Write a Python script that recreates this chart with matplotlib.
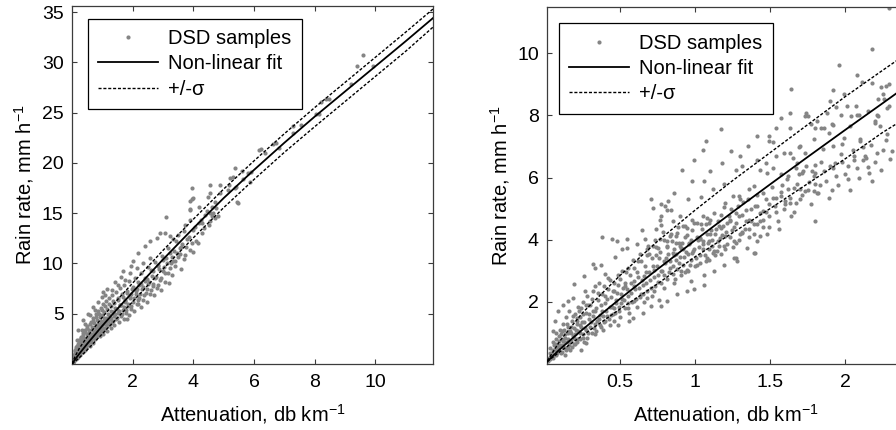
import numpy as np
import matplotlib
matplotlib.use('Agg')
from matplotlib import pyplot as plt

plt.rcParams['font.family'] = ['Liberation Sans', 'DejaVu Sans']
plt.rcParams['mathtext.fontset'] = 'custom'
plt.rcParams['mathtext.rm'] = 'Liberation Sans'
plt.rcParams['mathtext.it'] = 'Liberation Sans:italic'
plt.rcParams['mathtext.default'] = 'regular'

# ---- left panel: full range ----
left_fit_a = [0, 0.1, 0.25, 0.5, 1, 1.5, 2, 2.63, 3, 4, 5, 6, 7, 8, 9, 10, 11, 11.9]
left_fit_r = [0, 0.45, 1.05, 2.0, 3.8, 5.5, 7.15, 9.2, 10.4, 13.5, 16.5, 19.3, 22.0, 24.6, 27.1, 29.6, 32.1, 34.4]
left_up_r = [0, 0.75, 1.6, 2.7, 4.65, 6.4, 8.05, 10.1, 11.3, 14.4, 17.4, 20.2, 22.9, 25.5, 28.0, 30.5, 33.0, 35.3]
left_lo_r = [0, 0.25, 0.65, 1.4, 3.0, 4.6, 6.2, 8.25, 9.45, 12.55, 15.55, 18.35, 21.05, 23.6, 26.1, 28.6, 31.1, 33.5]

left_samples = [
    (9.58, 30.7), (9.39, 29.6), (9.91, 29.6), (9.20, 27.8), (8.38, 26.4), (8.21, 26.1),
    (8.46, 26.4), (8.14, 24.9), (7.56, 23.8), (7.28, 23.7), (6.62, 21.9), (6.22, 21.4),
    (6.35, 21.0), (6.84, 21.5), (5.80, 19.0), (5.63, 18.4), (5.36, 19.5), (5.31, 18.6),
    (5.17, 17.8), (5.36, 17.5), (5.44, 16.1), (5.14, 17.3), (4.87, 17.8), (4.87, 17.0),
    (4.70, 16.1), (4.76, 15.5), (4.54, 17.8), (4.54, 17.0), (3.97, 17.5), (3.99, 16.5),
    (3.88, 15.3), (4.19, 15.6), (3.97, 16.4), (3.90, 15.4), (5.42, 17.6), (5.47, 16.0),
    (5.20, 18.5), (5.61, 19.2), (5.91, 19.1), (5.86, 18.1), (6.18, 21.3), (6.73, 22.0),
    (7.28, 23.0), (8.05, 24.9), (4.54, 15.0), (4.48, 16.6), (4.27, 14.0), (4.60, 14.7),
    (4.81, 14.7), (3.72, 13.8), (3.88, 14.3), (3.11, 14.6), (3.88, 16.2), (3.59, 9.4),
    (3.99, 11.1), (4.15, 12.0), (2.89, 13.0), (3.06, 13.0), (3.22, 12.7), (2.79, 12.5),
    (2.57, 12.2), (2.40, 11.7), (2.18, 11.0), (2.02, 10.2), (1.96, 9.7), (1.69, 9.2),
    (1.63, 8.7), (1.41, 8.2), (1.14, 7.5), (1.03, 7.2), (0.98, 6.7), (0.76, 5.4),
    (0.59, 4.9), (0.43, 4.0), (0.32, 3.4), (2.18, 6.0), (1.80, 4.5), (3.44, 12.2),
    (3.55, 11.5), (3.72, 10.8), (3.22, 11.0), (3.33, 10.2), (3.00, 10.3), (2.84, 9.7),
    (2.67, 9.2), (2.46, 8.5), (2.29, 8.0), (2.13, 7.5), (1.96, 7.0), (1.74, 6.4),
    (1.58, 5.9), (1.36, 5.2), (1.14, 4.5), (0.92, 3.7), (0.70, 2.9), (0.48, 2.1),
    (0.26, 1.2), (2.57, 10.5), (2.35, 10.0), (2.13, 9.5), (1.91, 9.0), (1.74, 8.4),
    (1.52, 7.9), (1.31, 7.4), (1.09, 6.9), (0.87, 6.2), (0.70, 5.7), (0.54, 5.0),
    (0.37, 4.4), (0.21, 3.4), (0.15, 2.4), (0.10, 1.4),
    (0.05, 0.3), (0.06, 0.6), (0.08, 0.9), (0.08, 0.4), (0.10, 1.1), (0.10, 0.6),
    (0.12, 0.8), (0.13, 1.5), (0.15, 1.0), (0.16, 0.6), (0.18, 1.8), (0.18, 1.2),
    (0.20, 0.9), (0.22, 1.5), (0.24, 2.2), (0.25, 1.1), (0.27, 1.7), (0.28, 0.9),
    (0.30, 2.6), (0.30, 1.4), (0.33, 2.0), (0.35, 1.2), (0.36, 2.9), (0.38, 1.7),
    (0.40, 2.3), (0.42, 1.4), (0.44, 3.2), (0.45, 2.0), (0.47, 1.6), (0.50, 2.6),
    (0.50, 3.6), (0.52, 1.9), (0.55, 2.3), (0.56, 3.1), (0.58, 1.8), (0.60, 2.8),
    (0.60, 4.0), (0.63, 2.2), (0.65, 3.4), (0.67, 2.6), (0.70, 4.3), (0.70, 2.1),
    (0.72, 3.0), (0.75, 3.7), (0.77, 2.5), (0.80, 4.7), (0.80, 3.3), (0.83, 2.8),
    (0.85, 4.0), (0.88, 3.1), (0.90, 5.0), (0.90, 3.6), (0.93, 2.8), (0.95, 4.3),
    (0.98, 3.4), (1.00, 5.4), (1.00, 3.9), (1.03, 3.0), (1.05, 4.6), (1.08, 3.6),
    (1.10, 5.8), (1.12, 4.2), (1.15, 3.3), (1.18, 5.0), (1.20, 3.9), (1.22, 6.0),
    (1.25, 4.5), (1.28, 3.6), (1.30, 5.3), (1.33, 4.2), (1.35, 6.3), (1.38, 4.8),
    (1.40, 3.9), (1.43, 5.6), (1.46, 4.5), (1.50, 6.6), (1.52, 5.1), (1.55, 4.2),
    (1.58, 5.9), (1.62, 4.8), (1.65, 7.0), (1.68, 5.4), (1.70, 4.5), (1.74, 6.2),
    (1.78, 5.1), (1.80, 7.3), (1.84, 5.8), (1.88, 4.9), (1.92, 6.6), (1.95, 5.5),
    (2.00, 7.7), (2.02, 6.2), (2.06, 5.3), (2.10, 7.0), (2.14, 6.0), (2.18, 8.2),
    (2.22, 6.6), (2.26, 5.7), (2.30, 7.5), (2.35, 6.4), (2.40, 8.6), (2.44, 7.1),
    (2.48, 6.2), (2.52, 8.0), (2.58, 7.0), (2.62, 9.3), (2.66, 7.8), (2.70, 6.9),
    (2.75, 8.6), (2.80, 7.6), (2.85, 9.8), (2.90, 8.4), (2.95, 7.4), (3.00, 9.2),
    (3.05, 8.2), (3.10, 10.5), (3.15, 9.0), (3.20, 8.1), (3.25, 10.0), (3.30, 8.9),
    (3.35, 11.2), (3.40, 9.7), (3.50, 10.6), (3.60, 11.6), (3.70, 10.4), (3.80, 12.4),
    (3.90, 11.3), (4.00, 13.3), (4.10, 12.2), (4.20, 14.0), (4.30, 13.0), (4.40, 14.8),
    (4.50, 13.8), (4.60, 15.6), (4.70, 14.5),
    (0.02, 0.1), (0.03, 0.3), (0.04, 0.5), (0.04, 0.15), (0.06, 0.35), (0.07, 0.7),
    (0.09, 0.5), (0.09, 1.0), (0.11, 0.7), (0.11, 1.3), (0.12, 0.45), (0.14, 1.0),
    (0.14, 1.7), (0.16, 0.8), (0.17, 1.4), (0.19, 0.7), (0.19, 2.0), (0.21, 1.2),
    (0.21, 1.7), (0.23, 0.9), (0.23, 2.4), (0.25, 1.5), (0.26, 2.0), (0.28, 1.25),
    (0.29, 2.7), (0.31, 1.7), (0.32, 2.3), (0.34, 1.4), (0.35, 3.1), (0.37, 2.0),
    (0.39, 2.6), (0.41, 1.8), (0.43, 3.4), (0.44, 2.4), (0.46, 1.9), (0.48, 3.0),
    (0.49, 2.2), (0.51, 3.8), (0.53, 2.6), (0.54, 2.1), (0.57, 3.4), (0.59, 2.5),
    (0.61, 4.2), (0.62, 3.0), (0.64, 2.4), (0.66, 3.7), (0.68, 2.8), (0.69, 4.6),
    (0.71, 3.3), (0.73, 2.6), (0.74, 4.1), (0.76, 3.1), (0.78, 5.0), (0.79, 3.6),
    (0.81, 2.9), (0.83, 4.4), (0.84, 3.4), (0.86, 5.3), (0.87, 3.9), (0.89, 3.1),
    (0.91, 4.7), (0.92, 3.7), (0.94, 5.6), (0.96, 4.1), (0.97, 3.3), (0.99, 4.9),
    (1.01, 3.6), (1.02, 6.0), (1.04, 4.3), (1.06, 3.4), (1.07, 5.2), (1.09, 4.0),
    (1.11, 6.3), (1.13, 4.6), (1.14, 3.8), (1.16, 5.5), (1.19, 4.3), (1.21, 6.6),
    (1.23, 4.9), (1.24, 4.0), (1.27, 5.8), (1.29, 4.6), (1.32, 6.9), (1.34, 5.2),
    (1.36, 4.3), (1.39, 6.1), (1.42, 5.0), (1.45, 7.2), (1.47, 5.5), (1.49, 4.6),
    (1.53, 6.4), (1.56, 5.3), (1.59, 7.6), (1.61, 5.9), (1.64, 5.0), (1.67, 6.7),
    (1.71, 5.7), (1.73, 7.9), (1.76, 6.3), (1.79, 5.4), (1.82, 7.1), (1.86, 6.0),
    (1.89, 8.3), (1.91, 6.7), (1.94, 5.8), (1.98, 7.5), (2.04, 6.6), (2.08, 8.6),
    (2.12, 7.3), (2.16, 6.4), (2.20, 7.9), (2.25, 7.0), (2.28, 9.0), (2.33, 7.7),
    (2.38, 6.9), (2.42, 8.3), (2.46, 7.5), (2.50, 9.6), (2.55, 8.2), (2.60, 7.4),
    (2.64, 8.8), (2.68, 8.0), (2.72, 10.1), (2.78, 8.7), (2.82, 7.9), (2.88, 9.4),
    (2.93, 8.6), (2.98, 10.7), (3.02, 9.6), (3.08, 9.0), (3.12, 10.0), (3.18, 11.5),
    (3.22, 9.5), (3.28, 10.6), (3.32, 12.4), (3.38, 10.2), (3.45, 11.0), (3.48, 12.8),
    (3.55, 10.9), (3.62, 11.9), (3.68, 13.2), (3.75, 11.6), (3.85, 12.6), (3.95, 12.0),
    (4.05, 13.6), (4.25, 14.3), (4.35, 13.5), (4.45, 15.2), (4.55, 14.2), (4.65, 15.0),
]

# ---- right panel: low attenuation zoom ----
right_fit_a = [0.015, 0.05, 0.1, 0.25, 0.5, 0.75, 1.0, 1.25, 1.5, 1.75, 2.0, 2.25, 2.4]
right_fit_r = [0.08, 0.25, 0.48, 1.11, 2.10, 3.05, 3.98, 4.89, 5.78, 6.66, 7.53, 8.39, 8.91]
right_up_a = [0.015, 0.1, 0.25, 0.5, 0.75, 1.0, 1.25, 1.5, 1.75, 2.0, 2.25, 2.4]
right_up_r = [0.1, 0.75, 1.65, 2.85, 3.95, 4.95, 5.9, 6.8, 7.7, 8.6, 9.45, 9.95]
right_lo_r = [0.08, 0.4, 0.92, 1.77, 2.58, 3.45, 4.22, 5.0, 5.8, 6.6, 7.45, 7.9]

right_samples = [
    (2.29, 11.45), (2.18, 10.15), (1.96, 9.62), (2.08, 9.29), (1.64, 8.86), (2.11, 9.08),
    (2.18, 9.06), (1.92, 8.82), (2.24, 8.93), (2.29, 9.0), (1.99, 8.68), (2.25, 8.68),
    (2.26, 8.52), (2.22, 8.52), (1.90, 8.46), (2.01, 8.32), (1.94, 8.28), (2.07, 8.32),
    (1.63, 8.09), (1.73, 7.98), (1.75, 7.98), (1.88, 8.09), (1.97, 8.03), (2.15, 8.14),
    (2.21, 8.0), (2.28, 8.25), (1.81, 7.82), (1.92, 7.68), (2.08, 8.03), (2.20, 7.82),
    (2.23, 7.66), (1.63, 7.61), (1.86, 7.61), (2.03, 7.66),
    (1.74, 8.09), (1.57, 7.93), (1.84, 7.6), (1.54, 7.6), (1.49, 7.34), (1.41, 7.34),
    (1.35, 7.01), (1.30, 6.69), (1.17, 7.55), (1.07, 7.17), (0.99, 6.58), (1.05, 6.9),
    (1.24, 6.85), (1.18, 6.48), (1.10, 6.21), (1.06, 5.89), (0.98, 5.89), (0.915, 6.26),
    (0.86, 5.51), (0.705, 5.32), (0.77, 5.14), (0.816, 4.97), (1.79, 7.23), (1.70, 7.01),
    (1.89, 7.45), (1.92, 7.01), (2.10, 7.23), (2.06, 6.69), (2.14, 6.64), (2.16, 6.16),
    (2.02, 6.37), (2.22, 7.98), (2.29, 8.3), (2.27, 8.95), (1.41, 6.58), (1.54, 6.69),
    (1.63, 6.8), (1.68, 6.48), (1.74, 6.37), (1.80, 6.16), (1.79, 5.56), (1.70, 5.62),
    (1.57, 5.4), (1.48, 6.16), (1.39, 5.72), (1.30, 5.3), (1.63, 5.19),
    (0.82, 5.24), (0.80, 5.08), (0.77, 4.76), (0.95, 5.3), (1.04, 5.38), (1.12, 5.62),
    (1.19, 5.78), (1.27, 6.26), (1.31, 6.37), (1.49, 7.17), (1.52, 7.14), (1.77, 7.71),
    (1.69, 6.99), (1.59, 6.8), (1.65, 6.64), (1.73, 6.8), (1.80, 7.6), (1.85, 6.93),
    (1.91, 7.71), (1.99, 7.28), (1.98, 7.07), (2.04, 7.98), (2.09, 8.03), (2.10, 7.17),
    (2.13, 6.69), (2.20, 7.77), (1.43, 6.26), (1.47, 6.48), (1.52, 6.32), (1.57, 6.1),
    (1.62, 6.05), (1.67, 6.32), (1.71, 6.16), (1.78, 6.21), (1.80, 5.78), (1.73, 5.56),
    (1.81, 5.5), (1.90, 6.37), (1.93, 6.48), (1.80, 4.6), (1.56, 4.33), (1.40, 3.58),
    (1.27, 3.42), (1.43, 4.11), (1.31, 4.22), (1.36, 4.65), (1.45, 4.92), (1.49, 5.14),
    (1.54, 5.35), (1.60, 5.14), (1.62, 5.62), (1.67, 5.19), (1.40, 5.08), (1.34, 4.97),
    (1.27, 4.87), (1.23, 4.65), (1.16, 4.44), (1.09, 4.55), (1.05, 4.76), (0.98, 4.65),
    (0.92, 4.44), (0.87, 4.11), (0.90, 3.79), (0.96, 3.9), (1.03, 4.01), (1.09, 3.95),
    (1.16, 3.79), (1.12, 3.58), (1.05, 3.69), (0.98, 3.58), (1.20, 4.11), (1.29, 5.40),
    (1.36, 5.62), (1.25, 5.40), (1.20, 5.19),
    (0.717, 5.03), (0.84, 4.97), (0.38, 4.08), (0.445, 4.03), (0.478, 3.95), (0.544, 4.01),
    (0.51, 3.69), (0.544, 3.74), (0.467, 3.45), (0.61, 3.85), (0.644, 4.31), (0.666, 4.01),
    (0.743, 4.33), (0.776, 4.46), (0.765, 4.65), (0.854, 4.6), (0.897, 4.76), (0.677, 3.69),
    (0.72, 3.79), (0.765, 4.01), (0.83, 4.11), (0.81, 3.79), (0.875, 3.9), (0.854, 3.58),
    (0.743, 3.52), (0.92, 3.69), (0.93, 4.44),
    (1.394, 3.56), (1.26, 3.40), (1.06, 2.54), (0.99, 2.43), (0.97, 2.66), (0.77, 1.86),
    (0.76, 2.07), (0.65, 1.65), (0.584, 1.49), (0.562, 1.38), (0.485, 1.27), (0.385, 1.11),
    (0.33, 0.95), (0.24, 0.46), (0.275, 0.68), (0.193, 2.56), (0.26, 2.83), (0.33, 3.1),
    (0.32, 3.22), (0.374, 3.2), (0.12, 1.89), (0.087, 1.7), (0.154, 2.02), (0.187, 2.13),
    (0.065, 1.38), (0.054, 1.05), (0.065, 0.63), (0.043, 0.30), (0.087, 0.41), (0.13, 0.30),
    (0.154, 0.52), (0.198, 0.63), (0.12, 0.73), (0.11, 1.05), (0.165, 1.05), (0.23, 1.27),
    (0.21, 1.49), (0.24, 1.81), (0.286, 1.91), (0.32, 1.7), (0.364, 1.59), (0.397, 1.38),
    (0.44, 1.59), (0.463, 1.81), (0.507, 1.97), (0.55, 1.81), (0.595, 2.02), (0.64, 2.24),
    (0.683, 2.13), (0.728, 2.34), (0.794, 2.45), (0.86, 2.61), (0.904, 2.88), (0.948, 3.04),
    (1.015, 3.2), (1.08, 3.42), (1.125, 3.63), (1.19, 3.79), (1.258, 3.95), (1.30, 4.17),
    (1.357, 4.33), (1.41, 4.49), (1.456, 4.65), (0.904, 3.74), (0.86, 3.52), (0.794, 3.31),
    (0.728, 3.04), (0.66, 2.83), (0.595, 2.66), (0.53, 2.5), (0.463, 2.34), (0.397, 2.18),
    (0.33, 2.5), (0.264, 2.34), (0.419, 2.77), (0.485, 2.88), (0.55, 3.1), (0.617, 3.31),
    (0.683, 3.52), (0.75, 3.74), (0.816, 3.95), (0.88, 4.22), (0.948, 4.38), (1.015, 4.54),
    (1.08, 4.71), (1.036, 4.06), (1.10, 4.17), (1.17, 4.38), (1.235, 4.6), (1.125, 2.99),
    (1.06, 2.88), (1.19, 3.2), (1.28, 3.31), (1.346, 3.74), (1.41, 3.95), (1.48, 4.17),
    (0.948, 2.34), (0.88, 2.24), (0.816, 2.02), (0.705, 1.86),
    (0.03, 0.15), (0.03, 0.35), (0.04, 0.25), (0.05, 0.45), (0.05, 0.2), (0.06, 0.6),
    (0.06, 0.3), (0.07, 0.5), (0.07, 0.8), (0.08, 0.35), (0.08, 0.65), (0.09, 0.9),
    (0.09, 0.45), (0.10, 0.6), (0.10, 1.1), (0.11, 0.4), (0.11, 0.8), (0.12, 1.3),
    (0.12, 0.55), (0.13, 0.95), (0.13, 0.7), (0.14, 1.5), (0.14, 0.45), (0.15, 0.8),
    (0.15, 1.2), (0.16, 0.6), (0.16, 1.7), (0.17, 1.0), (0.17, 0.75), (0.18, 1.4),
    (0.18, 0.55), (0.19, 1.15), (0.19, 0.85), (0.20, 1.6), (0.20, 0.95), (0.21, 0.7),
    (0.21, 1.3), (0.22, 1.85), (0.22, 1.05), (0.23, 0.8), (0.23, 1.5), (0.24, 1.2),
    (0.25, 0.95), (0.25, 2.0), (0.26, 1.35), (0.26, 0.7), (0.27, 1.65), (0.27, 1.1),
    (0.28, 2.2), (0.28, 0.85), (0.29, 1.45), (0.30, 1.2), (0.30, 1.9), (0.31, 1.0),
    (0.32, 1.55), (0.32, 2.35), (0.33, 1.3), (0.34, 1.8), (0.34, 1.05), (0.35, 2.05),
    (0.36, 1.45), (0.36, 2.6), (0.37, 1.2), (0.38, 1.7), (0.38, 2.25), (0.39, 1.35),
    (0.40, 1.95), (0.40, 2.9), (0.41, 1.55), (0.42, 2.4), (0.43, 1.25), (0.43, 1.85),
    (0.44, 2.15), (0.45, 1.6), (0.46, 2.6), (0.46, 1.4), (0.47, 1.95), (0.48, 2.3),
    (0.49, 1.7), (0.50, 2.75), (0.50, 1.5), (0.51, 2.1), (0.52, 2.45), (0.53, 1.8),
    (0.54, 2.95), (0.55, 2.2), (0.56, 1.65), (0.57, 2.6), (0.58, 2.0), (0.59, 3.1),
    (0.60, 2.4), (0.61, 1.85), (0.62, 2.8), (0.63, 2.15), (0.64, 3.3), (0.65, 2.55),
    (0.66, 2.0), (0.67, 2.95), (0.68, 2.35), (0.69, 3.55), (0.70, 2.7), (0.71, 2.2),
    (0.72, 3.15), (0.73, 2.5), (0.74, 3.75), (0.75, 2.85), (0.76, 3.4), (0.77, 2.6),
    (0.78, 3.0), (0.79, 4.0), (0.80, 3.25), (0.81, 2.75), (0.82, 3.55), (0.83, 3.1),
    (0.84, 4.2), (0.85, 2.9), (0.86, 3.7), (0.87, 3.35), (0.88, 3.05), (0.89, 3.9),
    (0.90, 3.45), (0.92, 3.2), (0.93, 4.1), (0.94, 3.6), (0.95, 3.0), (0.96, 3.85),
    (0.97, 3.35), (0.98, 4.3), (0.99, 3.7), (1.00, 3.15), (1.02, 4.0), (1.03, 3.5),
    (1.04, 4.5), (1.05, 3.85), (1.07, 3.3), (1.08, 4.2), (1.09, 3.7), (1.10, 4.65),
    (1.11, 4.0), (1.13, 3.5), (1.14, 4.35), (1.15, 3.95), (1.17, 4.8), (1.18, 4.15),
    (1.20, 3.7), (1.21, 4.55), (1.23, 4.1), (1.24, 5.0), (1.26, 4.4), (1.27, 3.9),
    (1.29, 4.75), (1.31, 4.25), (1.32, 5.2), (1.34, 4.6), (1.36, 4.1), (1.37, 5.0),
    (1.39, 4.5), (1.41, 5.45), (1.43, 4.85), (1.45, 4.4), (1.47, 5.3), (1.49, 4.75),
    (1.51, 5.7), (1.53, 5.1), (1.55, 4.6), (1.57, 5.55), (1.59, 5.0), (1.61, 5.95),
    (1.63, 5.35), (1.66, 4.9), (1.68, 5.8), (1.70, 5.3), (1.72, 6.2), (1.75, 5.6),
    (1.77, 5.15), (1.79, 6.05), (1.82, 5.5), (1.84, 6.5), (1.87, 5.9), (1.89, 5.35),
    (1.92, 6.3), (1.95, 5.75), (1.97, 6.75), (2.00, 6.1), (2.03, 5.6), (2.06, 6.55),
    (2.09, 6.0), (2.12, 7.0), (2.15, 6.35), (2.18, 5.9), (2.21, 6.8), (2.24, 6.25),
    (2.27, 7.2), (2.30, 6.6),
    (0.02, 0.1), (0.025, 0.2), (0.035, 0.5), (0.045, 0.35), (0.055, 0.7), (0.065, 0.45),
    (0.075, 0.3), (0.075, 1.0), (0.085, 0.55), (0.095, 0.75), (0.105, 0.35), (0.105, 0.95),
    (0.115, 0.6), (0.125, 1.1), (0.135, 0.5), (0.135, 0.85), (0.145, 1.3), (0.155, 0.7),
    (0.155, 1.0), (0.165, 0.45), (0.175, 1.2), (0.185, 0.9), (0.185, 1.55), (0.195, 0.65),
    (0.205, 1.1), (0.215, 1.4), (0.215, 0.8), (0.225, 1.7), (0.235, 1.0), (0.245, 1.35),
    (0.255, 0.85), (0.255, 1.6), (0.265, 1.15), (0.275, 1.9), (0.285, 1.0), (0.295, 1.6),
    (0.305, 1.35), (0.315, 2.1), (0.325, 1.15), (0.335, 1.7), (0.345, 1.4), (0.355, 2.3),
    (0.365, 1.25), (0.375, 1.9), (0.385, 1.55), (0.395, 2.5), (0.405, 1.7), (0.415, 2.1),
    (0.425, 1.45), (0.435, 2.7), (0.445, 1.85), (0.455, 2.35), (0.465, 1.65), (0.475, 2.05),
    (0.485, 2.55), (0.495, 1.85), (0.505, 2.25), (0.515, 3.0), (0.525, 2.05), (0.535, 2.6),
    (0.545, 2.4), (0.555, 1.95), (0.565, 2.85), (0.575, 2.3), (0.585, 3.35), (0.595, 2.5),
    (0.605, 2.1), (0.615, 2.95), (0.625, 2.45), (0.635, 3.55), (0.645, 2.7), (0.655, 2.25),
    (0.665, 3.15), (0.675, 2.6), (0.685, 3.8), (0.695, 2.95), (0.705, 2.45), (0.715, 3.4),
    (0.725, 2.8), (0.735, 4.0), (0.745, 3.15), (0.755, 2.65), (0.765, 3.6), (0.775, 3.0),
    (0.785, 4.25), (0.795, 2.85), (0.805, 3.4), (0.815, 3.75), (0.825, 2.95), (0.835, 3.3),
    (0.845, 3.95), (0.855, 3.15), (0.865, 2.75), (0.875, 3.55), (0.885, 4.4), (0.895, 3.25),
    (0.905, 3.0), (0.915, 3.9), (0.925, 3.45), (0.935, 2.95), (0.945, 4.15), (0.955, 3.55),
    (0.965, 3.2), (0.975, 4.0), (0.985, 3.65), (0.995, 4.55), (1.005, 3.4), (1.015, 4.1),
    (1.025, 3.75), (1.035, 3.25), (1.045, 4.35), (1.055, 3.95), (1.065, 3.5), (1.075, 4.5),
    (1.085, 3.9), (1.095, 3.35), (1.105, 4.3), (1.115, 3.8), (1.125, 4.85), (1.135, 4.2),
    (1.145, 3.65), (1.155, 4.6), (1.165, 4.05), (1.175, 3.55), (1.185, 4.45), (1.195, 5.05),
    (1.205, 4.25), (1.215, 3.85), (1.225, 4.75), (1.245, 4.3), (1.255, 3.75), (1.275, 4.55),
    (1.285, 5.1), (1.295, 4.0), (1.315, 4.8), (1.335, 4.35), (1.355, 5.3), (1.375, 4.6),
    (1.395, 4.2), (1.415, 5.1), (1.435, 4.6), (1.455, 5.5), (1.475, 4.9), (1.495, 4.4),
    (1.52, 5.35), (1.54, 4.9), (1.58, 5.75), (1.60, 5.25), (1.64, 4.75), (1.66, 5.65),
    (1.69, 6.1), (1.71, 5.45), (1.76, 5.85), (1.80, 6.4), (1.83, 5.75), (1.86, 6.2),
    (1.91, 5.6), (1.94, 6.05), (1.98, 6.5), (2.02, 5.95), (2.05, 6.9), (2.08, 6.3),
    (2.12, 6.55), (2.17, 7.05), (2.20, 6.5), (2.25, 6.9), (2.28, 7.4), (2.31, 6.85),
]

GRAY = '#858585'
FRAME = '#3c3c3c'


def draw_panel(ax, samples, fit_a, fit_r, band_a, up_r, lo_r,
               xlim, ylim, xticks, yticks, leg_anchor):
    pts = np.array(samples).T
    ax.plot(pts[0], pts[1], 'o', color=GRAY, ms=3.0, mew=0,
            label='DSD samples', zorder=2)
    ax.plot(fit_a, fit_r, '-', color='black', lw=1.3,
            label='Non-linear fit', zorder=3)
    ax.plot(band_a, up_r, color='black', lw=1.0, dashes=(2.2, 1.3),
            label='+/-σ', zorder=3)
    ax.plot(band_a, lo_r, color='black', lw=1.0, dashes=(2.2, 1.3), zorder=3)

    ax.set_xlim(*xlim)
    ax.set_ylim(*ylim)
    ax.set_xticks(xticks)
    ax.set_yticks(yticks)
    ax.set_xticklabels([('%g' % t) for t in xticks])
    ax.set_yticklabels([('%g' % t) for t in yticks])
    ax.tick_params(direction='in', top=True, right=True, length=3.5,
                   width=0.8, color=FRAME, labelsize=14)
    ax.tick_params(axis='x', pad=7.5)
    ax.tick_params(axis='y', pad=6)
    for sp in ax.spines.values():
        sp.set_color(FRAME)
        sp.set_linewidth(0.9)

    ax.set_xlabel('Attenuation, db km$^{-1}$', fontsize=14.5, labelpad=8)
    ax.set_ylabel('Rain rate, mm h$^{-1}$', fontsize=14.5, labelpad=4)

    leg = ax.legend(loc='upper left', bbox_to_anchor=leg_anchor,
                    borderaxespad=0, fontsize=14.5, frameon=True,
                    fancybox=False, framealpha=1, edgecolor='black',
                    handlelength=3.0, handletextpad=0.5, labelspacing=0.32,
                    borderpad=0.5, numpoints=1, markerscale=1.0)
    leg.get_frame().set_linewidth(0.9)


fig = plt.figure(figsize=(8.96, 4.30), dpi=100)
fig.patch.set_facecolor('white')

ax1 = fig.add_axes([72 / 896, 66 / 430, 361 / 896, 358 / 430])
draw_panel(ax1, left_samples, left_fit_a, left_fit_r, left_fit_a,
           left_up_r, left_lo_r, (0, 11.9), (0, 35.6),
           [2, 4, 6, 8, 10], [5, 10, 15, 20, 25, 30, 35], (0.044, 0.964))

ax2 = fig.add_axes([547.3 / 896, 66 / 430, 357.7 / 896, 357.3 / 430])
draw_panel(ax2, right_samples, right_fit_a, right_fit_r, right_up_a,
           right_up_r, right_lo_r, (0.015, 2.4), (0, 11.5),
           [0.5, 1, 1.5, 2], [2, 4, 6, 8, 10], (0.032, 0.953))

fig.savefig('out.png', dpi=100)
